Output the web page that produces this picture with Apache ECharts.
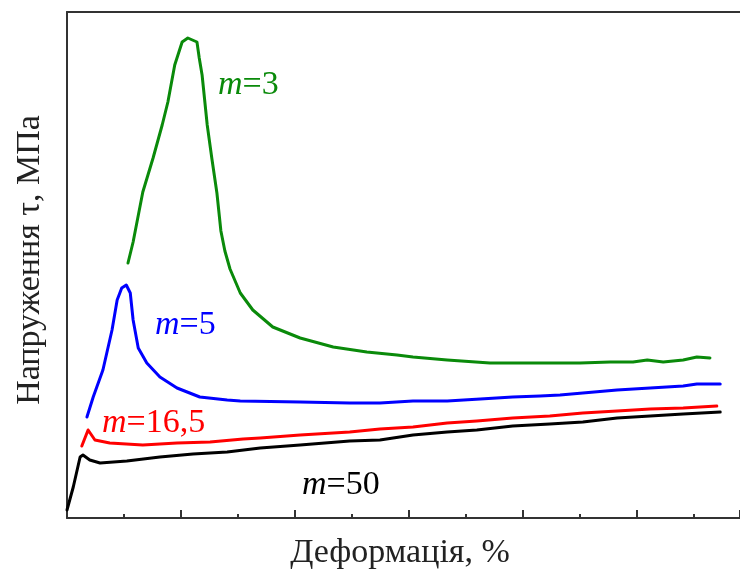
<!DOCTYPE html>
<html>
<head>
<meta charset="utf-8">
<script src="https://cdn.jsdelivr.net/npm/echarts@6/dist/echarts.min.js"></script>
<style>html,body{margin:0;padding:0;background:#fff}#c{width:740px;height:570px}</style>
</head>
<body>
<div id="c"></div>
<script>
// strain (arbitrary units, one minor tick = 1) and stress (arbitrary units)
const xM3 = [1.07,1.16,1.33,1.51,1.67,1.77,1.89,2.02,2.12,2.28,2.32,2.37,2.46,2.54,2.63,2.70,2.77,2.86,3.04,3.26,3.61,4.09,4.67,5.26,5.79,6.07,6.67,7.42,8.30,9.0,9.53,9.93,10.18,10.46,10.81,11.05,11.28];
const yM3 = [51.0,55.2,65.2,72.0,78.6,83.2,90.6,95.2,96.0,95.2,92.0,88.6,78.6,72.0,65.0,57.4,53.4,49.8,45.0,41.6,38.2,36.0,34.2,33.2,32.6,32.2,31.6,31.0,31.0,31.0,31.2,31.2,31.6,31.2,31.6,32.2,32.0];

const xM5 = [0.35,0.46,0.63,0.79,0.88,0.96,1.04,1.11,1.16,1.25,1.40,1.63,1.93,2.33,2.81,3.04,4.09,4.96,5.49,6.07,6.67,7.25,7.82,8.30,8.65,9.05,9.65,10.23,10.81,11.05,11.46];
const yM5 = [20.2,24.2,29.6,37.6,43.6,46.0,46.6,45.0,39.6,34.0,31.0,28.2,26.0,24.2,23.6,23.4,23.2,23.0,23.0,23.4,23.4,23.8,24.2,24.4,24.6,25.0,25.6,26.0,26.4,26.8,26.8];

const xM165 = [0.26,0.37,0.49,0.75,1.33,1.93,2.51,3.09,3.39,4.09,4.96,5.49,6.07,6.67,7.19,7.82,8.47,9.05,9.65,10.23,10.81,11.40];
const yM165 = [14.4,17.6,15.6,15.0,14.6,15.0,15.2,15.8,16.0,16.6,17.2,17.8,18.2,19.0,19.4,20.0,20.4,21.0,21.4,21.8,22.0,22.4];

const xM50 = [0,0.11,0.23,0.28,0.40,0.58,1.05,1.63,2.21,2.81,3.39,4.09,4.96,5.49,6.07,6.67,7.19,7.82,8.47,9.05,9.65,10.23,10.81,11.46];
const yM50 = [1.6,6.2,12.2,12.6,11.6,11.0,11.4,12.2,12.8,13.2,14.0,14.6,15.4,15.6,16.6,17.2,17.6,18.4,18.8,19.2,20.0,20.4,20.8,21.2];

const seriesNames = ['m=3','m=5','m=16,5','m=50'];
const xTitle = 'Деформація, %';
const yTitle = 'Напруження τ, МПа';

function pairs(xs, ys){ return xs.map((x,i)=>[x, ys[i]]); }

const chart = echarts.init(document.getElementById('c'), null, {renderer:'canvas'});
const font = '"Liberation Serif","Times New Roman",serif';
const colors = ['#0a8a0a','#0000ff','#ff0000','#000000'];
const datas = [pairs(xM3,yM3), pairs(xM5,yM5), pairs(xM165,yM165), pairs(xM50,yM50)];

function lbl(name, color, left, top){
  const parts = name.split('=');
  return {
    type:'text', left:left, top:top,
    style:{
      rich:{ i:{fontStyle:'italic', fontFamily:font, fontSize:34, fill:color},
             n:{fontFamily:font, fontSize:34, fill:color} },
      text:'{i|' + parts[0] + '}{n|=' + parts[1] + '}'
    }
  };
}

chart.setOption({
  backgroundColor:'#ffffff',
  animation:false,
  grid:{left:67, right:0, top:12, bottom:52, containLabel:false},
  xAxis:[{
    type:'value', min:0, max:11.807, interval:2,
    axisLine:{show:true, lineStyle:{color:'#333', width:2}},
    axisTick:{show:true, inside:true, length:8, lineStyle:{color:'#333', width:2}},
    minorTick:{show:true, splitNumber:2, length:4, lineStyle:{color:'#333', width:2}},
    axisLabel:{show:false}, splitLine:{show:false}
  },{
    type:'value', position:'top', min:0, max:11.807,
    axisLine:{show:true, onZero:false, lineStyle:{color:'#333', width:2}},
    axisTick:{show:false}, axisLabel:{show:false}, splitLine:{show:false}
  }],
  yAxis:{
    type:'value', min:0, max:101.2,
    axisLine:{show:true, lineStyle:{color:'#333', width:2}},
    axisTick:{show:false}, axisLabel:{show:false}, splitLine:{show:false}
  },
  series: datas.map((d,i)=>({
    type:'line', name:seriesNames[i], data:d, showSymbol:false, symbol:'none',
    smooth:false, lineStyle:{color:colors[i], width:3, join:'round', cap:'round'}, z:10-i
  })),
  graphic:[
    lbl(seriesNames[0], colors[0], 218, 68),
    lbl(seriesNames[1], colors[1], 155, 308),
    lbl(seriesNames[2], colors[2], 102, 406),
    lbl(seriesNames[3], colors[3], 302, 468),
    {type:'text', x:400, y:553, style:{text:xTitle, fontFamily:font, fontSize:34, fill:'#222', textAlign:'center', textVerticalAlign:'middle'}},
    {type:'text', x:30, y:260, rotation:Math.PI/2,
     style:{text:yTitle, fontFamily:font, fontSize:34, fill:'#222', textAlign:'center', textVerticalAlign:'middle'}}
  ]
});
</script>
</body>
</html>
